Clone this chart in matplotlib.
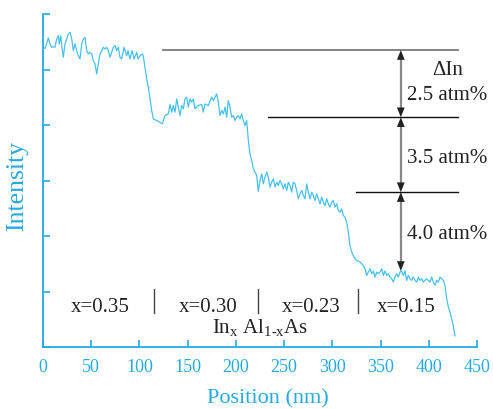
"""
InxAl1-xAs step-graded buffer - In intensity profile along growth direction
"""
import matplotlib
matplotlib.use("Agg")
import matplotlib.pyplot as plt

# ---- profile (nm, arb. units) ----
pos_nm = [
    # x = 0.35 plateau
    0, 2.1, 3.8, 5.5, 7.3, 9.0, 10.7, 12.4, 14.2, 15.9,
    16.9, 18.4, 19.7, 21.0, 22.8, 24.6, 26.2, 28.0, 29.8, 31.4,
    33.2, 34.9, 36.6, 38.4, 40.1, 41.8, 43.5, 45.3, 47.0, 48.7,
    50.5, 52.2, 53.9, 55.7, 57.3, 59.1, 60.9, 62.5, 64.3, 66.1,
    67.7, 69.5, 71.2, 72.9, 74.7, 76.4, 78.1, 79.8, 81.6, 84.0,
    86.8, 88.1, 90.2, 92.3, 94.4, 97.2, 98.5, 100.6, 103.4, 104.7,
    107.5, 109.2, 111.0, 112.7, 114.4, 117.9, 121.3, 123.7, 126.5,
    # x = 0.30 plateau
    129.9, 131.7, 133.5, 135.1, 136.9, 138.6, 140.3, 142.1, 143.8, 145.5,
    147.2, 149.0, 150.7, 152.4, 154.2, 155.9,
    157.6, 160.7, 164.6, 166.2, 168.0, 171.4, 174.9, 176.6, 180.1, 181.8,
    183.5, 185.3, 187.0, 188.7, 190.5, 192.1, 193.9, 195.7, 197.3, 199.1,
    200.9, 202.5, 204.3, 206.0, 207.7, 209.5, 211.2,
    212.9, 214.6, 216.4, 218.1, 219.8, 221.6, 223.2, 225.0, 226.8, 228.4,
    230.2, 232.0, 233.6,
    # x = 0.23 plateau
    235.4, 237.1, 238.8, 240.6, 242.3, 244.0, 245.7, 247.5, 249.2, 250.9,
    252.7, 254.4, 256.1, 257.9, 259.5, 261.3, 263.0, 264.7, 266.5, 268.3,
    269.9, 271.7, 273.4, 275.1, 276.9, 278.6, 280.3, 282.0, 283.8, 285.5,
    287.2, 289.0, 290.6, 292.4, 294.2, 295.8, 297.6, 299.4, 301.0, 302.8,
    304.5, 306.2, 308.0, 309.7, 311.4, 313.1,
    # x = 0.15 plateau
    314.9, 316.6, 318.3, 320.1, 321.7, 323.5, 325.3, 328.7, 330.5, 332.1,
    333.9, 335.7, 337.3, 339.1, 340.8, 342.5, 344.3, 346.0, 347.7, 349.4,
    351.2, 352.9, 354.6, 356.4, 358.0, 359.8, 361.6, 363.2, 365.0, 366.8,
    368.4, 370.2, 371.9, 373.6, 375.4, 377.1, 378.8, 380.5, 382.3, 384.0,
    385.7, 387.5, 389.2, 390.9, 392.7, 394.3, 396.1, 397.8, 399.5, 401.3,
    403.0, 404.7, 406.5, 408.2, 409.9, 411.6, 413.4, 415.1, 416.8, 418.6,
    420.3, 422.0, 423.8, 425.4, 427.2,
]
intensity = [
    5.40, 5.38, 5.46, 5.57, 5.46, 5.40, 5.41, 5.40, 5.55, 5.61,
    5.46, 5.61, 5.40, 5.22, 5.46, 5.55, 5.64, 5.67, 5.55, 5.34,
    5.46, 5.34, 5.25, 5.19, 5.46, 5.55, 5.58, 5.34, 5.28, 5.31,
    5.28, 5.16, 5.10, 4.92, 5.10, 5.28, 5.34, 5.40, 5.37, 5.40,
    5.34, 5.22, 5.31, 5.40, 5.43, 5.34, 5.40, 5.22, 5.19, 5.40,
    5.25, 5.34, 5.19, 5.34, 5.19, 5.31, 5.19, 5.25, 5.28, 5.16,
    4.83, 4.68, 4.47, 4.26, 4.11, 4.08, 4.05, 4.02, 4.17,
    4.20, 4.37, 4.23, 4.35, 4.23, 4.47, 4.32, 4.17, 4.35, 4.29,
    4.47, 4.50, 4.32, 4.47, 4.41, 4.47,
    4.29, 4.35, 4.37, 4.23, 4.38, 4.35, 4.50, 4.44, 4.56, 4.41,
    4.17, 4.26, 4.20, 4.32, 4.14, 4.44, 4.32, 4.14, 4.17, 4.08,
    4.14, 4.17, 4.11, 4.20, 4.08, 3.99, 4.08,
    3.72, 3.48, 3.36, 3.21, 3.15, 3.09, 2.80, 3.00, 3.12, 2.94,
    3.06, 3.15, 3.06,
    2.88, 2.97, 3.03, 2.88, 2.97, 2.91, 3.00, 2.94, 2.85, 2.94,
    2.82, 2.97, 2.91, 2.79, 2.97, 2.94, 2.82, 2.67, 2.76, 2.82,
    2.73, 2.67, 2.94, 2.79, 2.67, 2.79, 2.73, 2.64, 2.76, 2.67,
    2.58, 2.70, 2.61, 2.55, 2.67, 2.58, 2.52, 2.61, 2.64, 2.52,
    2.58, 2.46, 2.43, 2.49, 2.37, 2.34,
    2.25, 2.07, 1.83, 1.71, 1.65, 1.59, 1.56, 1.53, 1.50, 1.47,
    1.41, 1.29, 1.35, 1.41, 1.32, 1.37, 1.26, 1.35, 1.32, 1.35,
    1.41, 1.29, 1.37, 1.29, 1.32, 1.26, 1.23, 1.17, 1.26, 1.32,
    1.26, 1.35, 1.37, 1.29, 1.37, 1.20, 1.29, 1.23, 1.20, 1.26,
    1.20, 1.17, 1.26, 1.20, 1.23, 1.17, 1.20, 1.23, 1.20, 1.17,
    1.26, 1.17, 1.11, 1.20, 1.17, 1.26, 1.23, 1.20, 1.11, 0.87,
    0.72, 0.63, 0.51, 0.38, 0.20,
]

# reference levels and In steps
level_y = [5.35, 4.14, 2.79]
level_start = [124, 233, 325]
level_colors = ["#7a7a7a", "#111111", "#111111"]
step_labels = ["2.5 atm%", "3.5 atm%", "4.0 atm%"]
step_label_y = [4.46, 3.33, 1.96]
arrow_bottom = 1.37

# composition of each layer
comp_labels = ["x=0.35", "x=0.30", "x=0.23", "x=0.15"]
comp_x = [59, 171, 278, 377]
separators_x = [115, 223, 327]

BLUE = "#22aae2"
CURVE = "#45c1f0"
FONT = "Liberation Serif"

plt.rcParams["font.family"] = FONT
plt.rcParams["mathtext.fontset"] = "custom"
plt.rcParams["mathtext.rm"] = FONT

fig = plt.figure(figsize=(4.93, 4.10), dpi=100)
ax = fig.add_axes([43 / 493, 62 / 410, 434 / 493, 333 / 410])

ax.plot(pos_nm, intensity, color=CURVE, lw=0.9)

# level lines + double arrows
x_end = 430
x_arrow = 371
for y, x0, c in zip(level_y, level_start, level_colors):
    ax.plot([x0, x_end], [y, y], color=c, lw=1.3 if c == "#7a7a7a" else 1.0)
arrow_ends = level_y + [arrow_bottom]
for y_top, y_bot in zip(arrow_ends[:-1], arrow_ends[1:]):
    ax.plot([x_arrow, x_arrow], [y_top - 0.1, y_bot + 0.1], color="#888888", lw=1.6)
    ax.annotate("", xy=(x_arrow, y_bot), xytext=(x_arrow, y_top),
                arrowprops=dict(arrowstyle="<|-|>,head_length=0.7,head_width=0.28",
                                color="#222222", lw=0.01, shrinkA=0, shrinkB=0))

ax.text(419.5, 4.92, "ΔIn", ha="center", va="baseline", fontsize=15, color="#222222")
for lab, y in zip(step_labels, step_label_y):
    ax.text(419.5, y, lab, ha="center", va="baseline", fontsize=15, color="#222222")

for lab, x in zip(comp_labels, comp_x):
    ax.text(x, 0.65, lab, ha="center", va="baseline", fontsize=15, color="#222222")
for x in separators_x:
    ax.plot([x, x], [0.62, 1.05], color="#444444", lw=1.0)
ax.text(225.5, 0.27, r"In$_{\mathrm{x}}$ Al$_{\mathrm{1\text{-}x}}$As", ha="center",
        va="baseline", fontsize=15, color="#222222")

ax.set_xlim(0, 450)
ax.set_ylim(0, 6)
ax.set_xticks(range(0, 451, 50))
ax.set_yticks(range(0, 7))
ax.set_yticklabels([])
for side in ["top", "right"]:
    ax.spines[side].set_visible(False)
for side in ["left", "bottom"]:
    ax.spines[side].set_color(BLUE)
    ax.spines[side].set_linewidth(1.3)
ax.tick_params(direction="in", length=5, width=1.2, color=BLUE,
               labelcolor=BLUE, labelsize=13, pad=8)

ax.set_xlabel("Position (nm)", fontsize=16, color=BLUE)
ax.xaxis.set_label_coords(0.518, -0.125)
ax.set_ylabel("Intensity", fontsize=18.5, color=BLUE)
ax.yaxis.set_label_coords(-0.035, 0.486)

fig.savefig("out.png", dpi=100)
